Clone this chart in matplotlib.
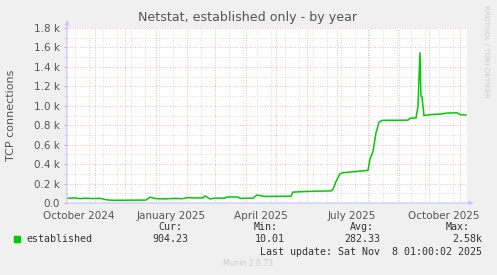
import numpy as np
import matplotlib
matplotlib.use("Agg")
import matplotlib.pyplot as plt
import matplotlib.dates as mdates
from matplotlib.patches import Rectangle
from matplotlib.ticker import FuncFormatter, MultipleLocator

# Data (daily averages, connections)
dates = [
    "2024-10-04", "2024-10-12", "2024-10-17", "2024-10-22", "2024-10-29",
    "2024-11-06", "2024-11-13", "2024-11-19", "2024-12-22", "2024-12-26",
    "2025-01-01", "2025-01-10", "2025-01-20", "2025-01-27", "2025-02-02",
    "2025-02-09", "2025-02-17", "2025-02-19", "2025-02-24", "2025-03-01",
    "2025-03-11", "2025-03-13", "2025-03-24", "2025-03-26", "2025-04-08",
    "2025-04-12", "2025-04-19", "2025-05-16", "2025-05-18", "2025-05-30",
    "2025-06-12", "2025-06-25", "2025-06-27", "2025-06-30", "2025-07-04",
    "2025-07-07", "2025-07-19", "2025-07-26", "2025-08-01", "2025-08-03",
    "2025-08-06", "2025-08-09", "2025-08-12", "2025-08-15", "2025-09-10",
    "2025-09-12", "2025-09-18", "2025-09-20", "2025-09-22", "2025-09-23",
    "2025-09-24", "2025-09-26", "2025-10-05", "2025-10-13", "2025-10-19",
    "2025-10-29", "2025-11-01", "2025-11-07",
]
established = [
    48, 52, 45, 50, 46,
    48, 32, 28, 30, 59,
    45, 42, 48, 44, 55,
    52, 52, 72, 42, 50,
    50, 62, 62, 48, 50,
    82, 68, 70, 112, 118,
    122, 124, 140, 220, 300,
    312, 322, 330, 335, 450,
    530, 720, 830, 850, 852,
    872, 875, 990, 1550, 1100,
    1095, 900, 912, 915, 925,
    928, 910, 904,
]

title = "Netstat, established only - by year"
ylabel = "TCP connections"
month_labels = ["October 2024", "January 2025", "April 2025", "July 2025", "October 2025"]
month_label_pos = ["2024-10-16", "2025-01-16", "2025-04-16", "2025-07-16", "2025-10-16"]
legend_name = "established"
stat_heads = ["Cur:", "Min:", "Avg:", "Max:"]
stat_vals = ["904.23", "10.01", "282.33", "2.58k"]
last_update = "Last update: Sat Nov  8 01:00:02 2025"

W, H = 497, 275
BG = "#f0f0f0"
GREEN = "#00cc00"
AXC = "#c8c8ff"


def fx(px):
    return px / W


def fy(py):
    return 1 - py / H


fig = plt.figure(figsize=(W / 100, H / 100), dpi=100, facecolor=BG)
ax = fig.add_axes([fx(67), fy(203), (467 - 67) / W, (203 - 28) / H])
ax.set_facecolor("white")

t = np.array(dates, dtype="datetime64[D]")
ax.plot(t, established, color=GREEN, lw=1.1, solid_joinstyle="miter")

ax.set_xlim(np.datetime64("2024-10-04T01:00"), np.datetime64("2025-11-08T01:00"))
ax.set_ylim(0, 1800)

# grid: months major (red), two weeks minor (gray)
ax.xaxis.set_major_locator(mdates.MonthLocator())
minor = np.arange(np.datetime64("2024-10-12"), np.datetime64("2025-11-08"), 14)
ax.set_xticks(minor, minor=True)
ax.yaxis.set_major_locator(MultipleLocator(200))
ax.yaxis.set_minor_locator(MultipleLocator(100))
ax.grid(which="minor", color="#d0d0d0", ls=(0, (1, 2)), lw=0.6)
ax.grid(which="major", color="#f0a0a0", ls=(0, (1, 2)), lw=0.6)
ax.set_axisbelow(True)

ax.tick_params(axis="x", which="both", length=0, labelbottom=False)
ax.tick_params(axis="y", which="major", length=2, color="#f0a0a0",
               labelsize=7.5, labelcolor="#555555", pad=3)
ax.tick_params(axis="y", which="minor", length=2, color="#d0d0d0")
ax.yaxis.set_major_formatter(FuncFormatter(
    lambda v, p: "0.0" if v == 0 else "%.1f k" % (v / 1000)))

for s in ax.spines.values():
    s.set_visible(False)
ax.annotate("", xy=(0, 1.045), xytext=(0, 0), xycoords="axes fraction",
            arrowprops=dict(arrowstyle="-|>", color=AXC, lw=0.9, mutation_scale=6,
                            shrinkA=0, shrinkB=0))
ax.annotate("", xy=(1.017, 0), xytext=(0, 0), xycoords="axes fraction",
            arrowprops=dict(arrowstyle="-|>", color=AXC, lw=0.9, mutation_scale=6,
                            shrinkA=0, shrinkB=0))

for lab, pos in zip(month_labels, month_label_pos):
    ax.text(np.datetime64(pos), -0.045, lab, transform=ax.get_xaxis_transform(),
            ha="center", va="top", fontsize=7.5, color="#555555")

fig.text(fx(248), fy(18), title, ha="center", va="center", fontsize=9.1, color="#555555")
fig.text(fx(11), fy(115), ylabel, ha="center", va="center", rotation=90,
         fontsize=8, color="#555555")
fig.text(fx(486), fy(5), "RRDTOOL / TOBI OETIKER", ha="center", va="top",
         rotation=270, fontsize=5.2, color="#cccccc")

# legend block
mono = "DejaVu Sans Mono"
fig.patches.append(Rectangle((fx(14), fy(242)), 6 / W, 6 / H, transform=fig.transFigure,
                             color=GREEN))
fig.text(fx(26), fy(239.5), legend_name, ha="left", va="center", family=mono,
         fontsize=7.2, color="#333333")
head_x = [182, 278, 374, 470]
val_x = [188, 285, 380, 482]
for hd, hx, v, vx in zip(stat_heads, head_x, stat_vals, val_x):
    fig.text(fx(hx), fy(227.5), hd, ha="right", va="center", family=mono,
             fontsize=7.2, color="#333333")
    fig.text(fx(vx), fy(239.5), v, ha="right", va="center", family=mono,
             fontsize=7.2, color="#333333")
fig.text(fx(482), fy(252), last_update, ha="right", va="center", family=mono,
         fontsize=7.2, color="#333333")
fig.text(fx(248), fy(264), "Munin 2.0.73", ha="center", va="center",
         fontsize=5.5, color="#cccccc")

fig.savefig("out.png", dpi=100, facecolor=BG)
